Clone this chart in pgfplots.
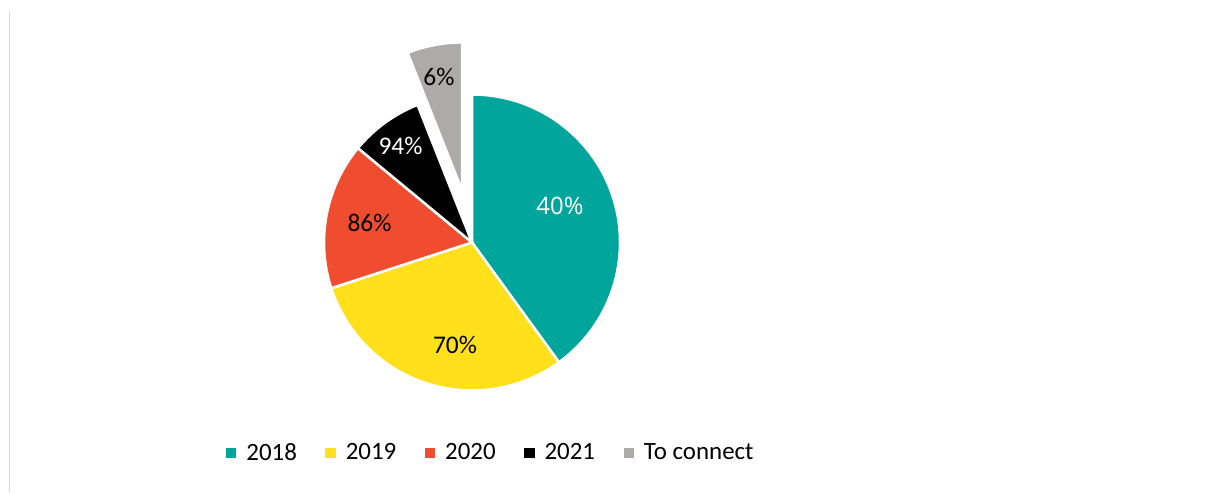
\documentclass[border=0pt]{standalone}
\usepackage{pgfplots}
\pgfplotsset{compat=1.18}
\usepackage{pgfplotstable}
\usepackage{fontspec}
\setmainfont{Carlito}
\newfontfamily\osans{Open Sans}

\definecolor{cteal}{HTML}{00A59C}
\definecolor{cyellow}{HTML}{FFE01B}
\definecolor{cred}{HTML}{F04C2F}
\definecolor{cgrey}{HTML}{ADAAAA}
\definecolor{cline}{HTML}{DADADA}

\pgfplotstableread{
value
40
30
16
8
6
}\piedata

\def\cumang{90}
\newcommand\defslice[2]{%
  \pgfplotstablegetelem{#1}{value}\of\piedata
  \pgfmathsetmacro\tmpv{\pgfplotsretval}%
  \expandafter\xdef\csname #2start\endcsname{\cumang}%
  \pgfmathsetmacro\newang{\cumang-3.6*\tmpv}%
  \expandafter\xdef\csname #2end\endcsname{\newang}%
  \pgfmathsetmacro\midang{(\cumang+\newang)/2}%
  \expandafter\xdef\csname #2mid\endcsname{\midang}%
  \xdef\cumang{\newang}%
}

\pgfplotsset{
  sqlegend/.style={legend image code/.code={\fill[#1] (0bp,-4.75bp) rectangle (9.5bp,4.75bp);}}
}

\begin{document}
\defslice{0}{A}\defslice{1}{B}\defslice{2}{C}\defslice{3}{D}\defslice{4}{E}%
\begin{tikzpicture}
\begin{axis}[
  hide axis, scale only axis, clip=false,
  x=1bp, y=1bp, xmin=0, xmax=1216, ymin=0, ymax=493,
  legend columns=5,
  legend cell align=left,
  legend style={at={(226/1216,40.5/493)}, anchor=west, draw=none, fill=none,
    inner sep=0pt, outer sep=0pt,
    font=\fontsize{25}{30}\selectfont,
    /tikz/every odd column/.append style={column sep=10.5bp},
    /tikz/every even column/.append style={column sep=28.5bp},
    nodes={inner sep=0pt}},
]
\path (axis cs:0,0) rectangle (axis cs:1216,493);
\draw[cline, line width=1bp] (axis cs:9.5,0) -- (axis cs:9.5,481);

\addlegendimage{sqlegend=cteal}\addlegendentry{2018}
\addlegendimage{sqlegend=cyellow}\addlegendentry{2019}
\addlegendimage{sqlegend=cred}\addlegendentry{2020}
\addlegendimage{sqlegend=black}\addlegendentry{2021}
\addlegendimage{sqlegend=cgrey}\addlegendentry{To connect}

\fill[cteal, draw=white, line width=2.5bp] (axis cs:472,250.5) -- ++(\Astart:148bp) arc[start angle=\Astart, end angle=\Aend, radius=148bp] -- cycle;
\fill[cyellow, draw=white, line width=2.5bp] (axis cs:472,250.5) -- ++(\Bstart:148bp) arc[start angle=\Bstart, end angle=\Bend, radius=148bp] -- cycle;
\fill[cred, draw=white, line width=2.5bp] (axis cs:472,250.5) -- ++(\Cstart:148bp) arc[start angle=\Cstart, end angle=\Cend, radius=148bp] -- cycle;
\fill[black, draw=white, line width=2.5bp] (axis cs:472,250.5) -- ++(\Dstart:148bp) arc[start angle=\Dstart, end angle=\Dend, radius=148bp] -- cycle;
\fill[cgrey, draw=white, line width=2.5bp] ([shift={(\Emid:53bp)}]axis cs:472,250.5) -- ++(\Estart:148bp) arc[start angle=\Estart, end angle=\Eend, radius=148bp] -- cycle;

\node[text=white, font=\osans\fontsize{24}{28}\selectfont, inner sep=0pt] at (axis cs:560,287.5) {40\%};
\node[text=black, font=\fontsize{25.5}{30}\selectfont, inner sep=0pt] at (axis cs:455,148) {70\%};
\node[text=black, font=\fontsize{25.5}{30}\selectfont, inner sep=0pt] at (axis cs:369.5,270.5) {86\%};
\node[text=white, font=\fontsize{25.5}{30}\selectfont, inner sep=0pt] at (axis cs:400.5,347.5) {94\%};
\node[text=black, font=\fontsize{25.5}{30}\selectfont, inner sep=0pt] at (axis cs:439,416.5) {6\%};
\end{axis}
\end{tikzpicture}
\end{document}
